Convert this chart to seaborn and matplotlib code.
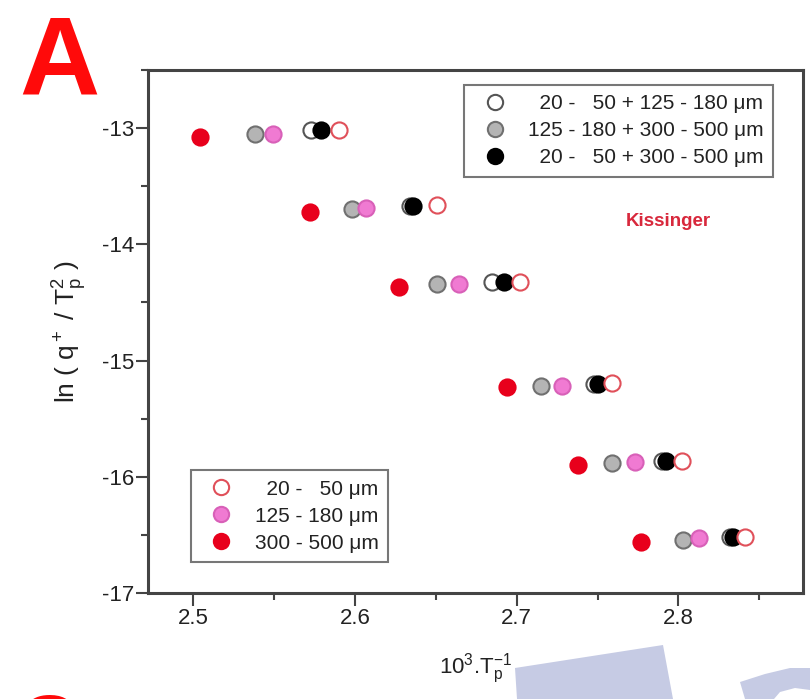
import matplotlib
matplotlib.use("Agg")
import matplotlib.pyplot as plt
import seaborn as sns
import pandas as pd
from matplotlib.lines import Line2D
from matplotlib.patches import Polygon
from matplotlib.ticker import MultipleLocator

# Kissinger plot: 10^3/Tp versus ln(q/Tp^2) for single size fractions and mixtures
x_20_50 = [2.590, 2.651, 2.702, 2.759, 2.802, 2.841]
y_20_50 = [-13.02, -13.66, -14.32, -15.19, -15.86, -16.52]
x_125_180 = [2.549, 2.607, 2.664, 2.728, 2.773, 2.813]
y_125_180 = [-13.05, -13.69, -14.34, -15.22, -15.87, -16.53]
x_300_500 = [2.504, 2.572, 2.627, 2.694, 2.738, 2.777]
y_300_500 = [-13.08, -13.72, -14.37, -15.23, -15.90, -16.56]
# mixtures
x_mix_20_125 = [2.573, 2.634, 2.685, 2.748, 2.790, 2.832]
y_mix_20_125 = [-13.02, -13.67, -14.32, -15.20, -15.86, -16.52]
x_mix_125_300 = [2.538, 2.598, 2.651, 2.715, 2.759, 2.803]
y_mix_125_300 = [-13.05, -13.70, -14.34, -15.22, -15.88, -16.54]
x_mix_20_300 = [2.579, 2.636, 2.692, 2.750, 2.792, 2.834]
y_mix_20_300 = [-13.02, -13.67, -14.32, -15.20, -15.86, -16.52]

x_ticks = [2.5, 2.6, 2.7, 2.8]
y_ticks = [-17, -16, -15, -14, -13]
labels_single = ["  20 -   50 \u03bcm", "125 - 180 \u03bcm", "300 - 500 \u03bcm"]
labels_mix = ["  20 -   50 + 125 - 180 \u03bcm",
              "125 - 180 + 300 - 500 \u03bcm",
              "  20 -   50 + 300 - 500 \u03bcm"]

sns.set_style("white")
plt.rcParams["font.family"] = ["Liberation Sans", "DejaVu Sans"]
plt.rcParams["mathtext.fontset"] = "custom"
plt.rcParams["mathtext.rm"] = "Liberation Sans"
plt.rcParams["mathtext.it"] = "Liberation Sans"

W, H = 810, 699
fig = plt.figure(figsize=(W / 100, H / 100), dpi=100)
ax = fig.add_axes([148 / W, 1 - 593 / H, (803 - 148) / W, (593 - 70) / H])

RED = "#e8001c"
PINK = "#f07ad2"
GRAY = "#b4b4b4"
DARK = "#555555"
S = 135

# (x, y, face, edge) in drawing order
series = [
    (x_mix_125_300, y_mix_125_300, GRAY, "#707070"),
    (x_125_180, y_125_180, PINK, "#d860b8"),
    (x_mix_20_125, y_mix_20_125, "white", DARK),
    (x_mix_20_300, y_mix_20_300, "black", "black"),
    (x_20_50, y_20_50, "white", "#e0505a"),
    (x_300_500, y_300_500, RED, RED),
]
for xs, ys, fc, ec in series:
    df = pd.DataFrame({"x": xs, "y": ys})
    sns.scatterplot(data=df, x="x", y="y", ax=ax, s=S, color=fc,
                    edgecolor=ec, linewidth=1.5, zorder=3, legend=False)

ax.set_xlim(2.472, 2.877)
ax.set_ylim(-17, -12.5)
ax.xaxis.set_minor_locator(MultipleLocator(0.05))
ax.yaxis.set_minor_locator(MultipleLocator(0.5))
ax.set_xticks(x_ticks)
ax.set_xticklabels([f"{v:.1f}" for v in x_ticks])
ax.set_yticks(y_ticks)
ax.set_yticklabels([f"-{abs(v)}" for v in y_ticks])
ax.tick_params(which="major", direction="out", length=9, width=1.5,
               color="#444444", labelsize=16, labelcolor="#222222",
               bottom=True, left=True, pad=2)
ax.tick_params(axis="y", which="major", pad=1)
ax.tick_params(which="minor", direction="out", length=5, width=1.5,
               color="#444444", bottom=True, left=True)
for sp in ax.spines.values():
    sp.set_linewidth(2.2)
    sp.set_color("#444444")

ax.set_xlabel("10$^3$.T$_p^{-1}$", fontsize=16, color="#222222", labelpad=16)
ax.set_ylabel("ln ( q$^+$ / T$_p^2$ )", fontsize=19, color="#222222", labelpad=9)

ax.text(668 / W, 1 - 222 / H, "Kissinger", transform=fig.transFigure,
        ha="center", va="center", fontsize=13.5, fontweight="bold", color="#d8283c")


def handle(fc, ec):
    return Line2D([], [], linestyle="none", marker="o", markersize=11,
                  markerfacecolor=fc, markeredgecolor=ec, markeredgewidth=1.5)


legend_kw = dict(borderaxespad=0, fontsize=15, frameon=True, fancybox=False,
                 edgecolor="#777777", framealpha=1, handlelength=2.0,
                 handletextpad=0.6, labelspacing=0.38, borderpad=0.45,
                 labelcolor="#222222", bbox_transform=fig.transFigure)
leg1 = ax.legend([handle("white", DARK), handle(GRAY, "#707070"), handle("black", "black")],
                 labels_mix, loc="upper right", bbox_to_anchor=(773 / W, 1 - 85 / H),
                 **legend_kw)
leg1.get_frame().set_linewidth(1.5)
ax.add_artist(leg1)
leg2 = ax.legend([handle("white", "#e0505a"), handle(PINK, "#d860b8"), handle(RED, RED)],
                 labels_single, loc="lower left", bbox_to_anchor=(191 / W, 1 - 562 / H),
                 **legend_kw)
leg2.get_frame().set_linewidth(1.5)

# panel letters
fig.text(59 / W, 1 - 95 / H, "A", ha="center", va="baseline", fontsize=80,
         fontweight="bold", color="#ff0a0a")
fig.text(48 / W, 1 - 692 / H, "C", ha="center", va="top", fontsize=60,
         fontweight="bold", color="#ff0a0a")

# overlapping graphic from the neighbouring panel
blue = "#c6cbe4"
fig.patches.append(Polygon([(515 / W, 1 - 668 / H), (663 / W, 1 - 645 / H),
                            (673 / W, 0), (517 / W, 0)],
                           closed=True, transform=fig.transFigure,
                           facecolor=blue, edgecolor="none"))
fig.patches.append(Polygon([(740 / W, 1 - 682 / H), (765 / W, 1 - 674 / H),
                            (790 / W, 1 - 668 / H), (810 / W, 1 - 668 / H),
                            (810 / W, 1 - 690 / H), (795 / W, 1 - 688 / H),
                            (780 / W, 1 - 692 / H), (774 / W, 0), (745 / W, 0)],
                           closed=True, transform=fig.transFigure,
                           facecolor=blue, edgecolor="none"))

fig.savefig("out.png", dpi=100)
